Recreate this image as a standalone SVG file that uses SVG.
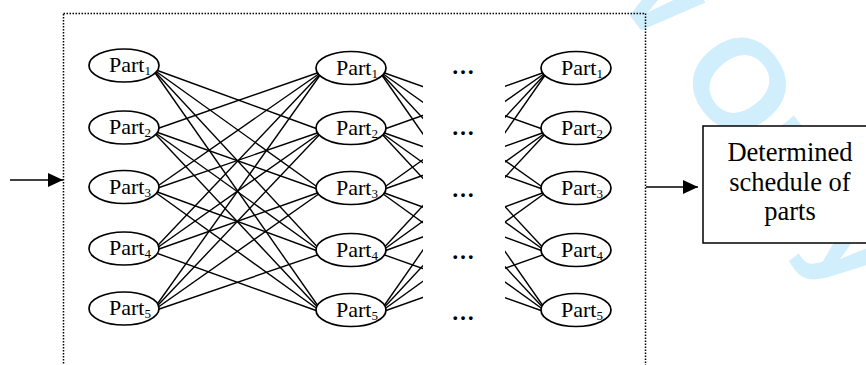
<svg xmlns="http://www.w3.org/2000/svg" width="866" height="365" viewBox="0 0 866 365">
<defs>
<marker id="ah" markerWidth="16" markerHeight="14" refX="15" refY="7" orient="auto" markerUnits="userSpaceOnUse"><path d="M0,0 L15,7 L0,14 z" fill="#000"/></marker>
<clipPath id="gap"><rect x="0" y="0" width="423" height="365"/><rect x="505" y="0" width="361" height="365"/></clipPath>
</defs>
<style>
.node ellipse{fill:#fff;stroke:#000;stroke-width:1.7}
.lbl{font-family:"Liberation Serif","Times New Roman",serif;font-size:22px;fill:#000}
.sub{font-size:13px}
.edges line{stroke:#000;stroke-width:1.4}
.dots{font-family:"Liberation Serif","Times New Roman",serif;font-size:23px;font-weight:bold;text-anchor:middle;fill:#000}
.wm{font-family:"Liberation Sans",Arial,sans-serif;font-weight:bold;font-size:128px;fill:#d0eefb}
</style>
<rect width="866" height="365" fill="#fff"/>
<g id="watermark" transform="translate(741,83) rotate(52)">
<text class="wm" x="-85.6" y="46" text-anchor="end">For Peer Review</text>
<text class="wm" x="-50" y="46">Only</text>
</g>
<rect id="frame" x="63.5" y="13.5" width="582" height="400" fill="none" stroke="#000" stroke-width="1.5" stroke-dasharray="1.5 1.5"/>
<g id="connectors" class="edges">
<g id="stage1">
<line x1="152" y1="68.5" x2="323" y2="131"/><line x1="152" y1="68.5" x2="323" y2="191"/><line x1="152" y1="68.5" x2="323" y2="253"/><line x1="152" y1="68.5" x2="323" y2="313"/>
<line x1="152" y1="130.5" x2="323" y2="71"/><line x1="152" y1="130.5" x2="323" y2="191"/><line x1="152" y1="130.5" x2="323" y2="253"/><line x1="152" y1="130.5" x2="323" y2="313"/>
<line x1="152" y1="190" x2="323" y2="71"/><line x1="152" y1="190" x2="323" y2="131"/><line x1="152" y1="190" x2="323" y2="253"/><line x1="152" y1="190" x2="323" y2="313"/>
<line x1="152" y1="251.5" x2="323" y2="71"/><line x1="152" y1="251.5" x2="323" y2="131"/><line x1="152" y1="251.5" x2="323" y2="191"/><line x1="152" y1="251.5" x2="323" y2="313"/>
<line x1="152" y1="311.5" x2="323" y2="71"/><line x1="152" y1="311.5" x2="323" y2="131"/><line x1="152" y1="311.5" x2="323" y2="191"/><line x1="152" y1="311.5" x2="323" y2="253"/>
</g>
<g id="stage2" clip-path="url(#gap)">
<line x1="379" y1="71" x2="548" y2="131"/><line x1="379" y1="71" x2="548" y2="191"/><line x1="379" y1="71" x2="548" y2="253"/><line x1="379" y1="71" x2="548" y2="313"/>
<line x1="379" y1="131" x2="548" y2="71"/><line x1="379" y1="131" x2="548" y2="191"/><line x1="379" y1="131" x2="548" y2="253"/><line x1="379" y1="131" x2="548" y2="313"/>
<line x1="379" y1="191" x2="548" y2="71"/><line x1="379" y1="191" x2="548" y2="131"/><line x1="379" y1="191" x2="548" y2="253"/><line x1="379" y1="191" x2="548" y2="313"/>
<line x1="379" y1="253" x2="548" y2="71"/><line x1="379" y1="253" x2="548" y2="131"/><line x1="379" y1="253" x2="548" y2="191"/><line x1="379" y1="253" x2="548" y2="313"/>
<line x1="379" y1="313" x2="548" y2="71"/><line x1="379" y1="313" x2="548" y2="131"/><line x1="379" y1="313" x2="548" y2="191"/><line x1="379" y1="313" x2="548" y2="253"/>
</g>
<line id="in-arrow" x1="10" y1="180" x2="63" y2="180" marker-end="url(#ah)"/>
<line id="out-arrow" x1="646" y1="187" x2="698" y2="187" marker-end="url(#ah)"/>
</g>
<g id="c1p1" class="node"><ellipse cx="124" cy="65.5" rx="35" ry="16.5"/><text class="lbl" x="109" y="72">Part<tspan class="sub" dy="3">1</tspan></text></g>
<g id="c1p2" class="node"><ellipse cx="124" cy="127.5" rx="35" ry="16.5"/><text class="lbl" x="109" y="134">Part<tspan class="sub" dy="3">2</tspan></text></g>
<g id="c1p3" class="node"><ellipse cx="124" cy="187" rx="35" ry="16.5"/><text class="lbl" x="109" y="193.5">Part<tspan class="sub" dy="3">3</tspan></text></g>
<g id="c1p4" class="node"><ellipse cx="124" cy="248.5" rx="35" ry="16.5"/><text class="lbl" x="109" y="255">Part<tspan class="sub" dy="3">4</tspan></text></g>
<g id="c1p5" class="node"><ellipse cx="124" cy="308.5" rx="35" ry="16.5"/><text class="lbl" x="109" y="315">Part<tspan class="sub" dy="3">5</tspan></text></g>
<g id="c2p1" class="node"><ellipse cx="351" cy="68" rx="35" ry="16.5"/><text class="lbl" x="336" y="74.5">Part<tspan class="sub" dy="3">1</tspan></text></g>
<g id="c2p2" class="node"><ellipse cx="351" cy="128" rx="35" ry="16.5"/><text class="lbl" x="336" y="134.5">Part<tspan class="sub" dy="3">2</tspan></text></g>
<g id="c2p3" class="node"><ellipse cx="351" cy="188" rx="35" ry="16.5"/><text class="lbl" x="336" y="194.5">Part<tspan class="sub" dy="3">3</tspan></text></g>
<g id="c2p4" class="node"><ellipse cx="351" cy="250" rx="35" ry="16.5"/><text class="lbl" x="336" y="256.5">Part<tspan class="sub" dy="3">4</tspan></text></g>
<g id="c2p5" class="node"><ellipse cx="351" cy="310" rx="35" ry="16.5"/><text class="lbl" x="336" y="316.5">Part<tspan class="sub" dy="3">5</tspan></text></g>
<g id="c3p1" class="node"><ellipse cx="576" cy="68" rx="35" ry="16.5"/><text class="lbl" x="561" y="74.5">Part<tspan class="sub" dy="3">1</tspan></text></g>
<g id="c3p2" class="node"><ellipse cx="576" cy="128" rx="35" ry="16.5"/><text class="lbl" x="561" y="134.5">Part<tspan class="sub" dy="3">2</tspan></text></g>
<g id="c3p3" class="node"><ellipse cx="576" cy="188" rx="35" ry="16.5"/><text class="lbl" x="561" y="194.5">Part<tspan class="sub" dy="3">3</tspan></text></g>
<g id="c3p4" class="node"><ellipse cx="576" cy="250" rx="35" ry="16.5"/><text class="lbl" x="561" y="256.5">Part<tspan class="sub" dy="3">4</tspan></text></g>
<g id="c3p5" class="node"><ellipse cx="576" cy="310" rx="35" ry="16.5"/><text class="lbl" x="561" y="316.5">Part<tspan class="sub" dy="3">5</tspan></text></g>
<g id="ellipses-dots">
<text class="dots" x="463" y="74">…</text>
<text class="dots" x="463" y="135">…</text>
<text class="dots" x="463" y="197">…</text>
<text class="dots" x="463" y="259">…</text>
<text class="dots" x="463" y="320">…</text>
</g>
<g id="result" class="node">
<rect x="703" y="126" width="180" height="117" fill="#fff" stroke="#000" stroke-width="1.5"/>
<text class="lbl" x="790" y="161" text-anchor="middle" style="font-size:26.5px">Determined</text>
<text class="lbl" x="790" y="191" text-anchor="middle" style="font-size:26.5px">schedule of</text>
<text class="lbl" x="790" y="220" text-anchor="middle" style="font-size:26.5px">parts</text>
</g>
</svg>
